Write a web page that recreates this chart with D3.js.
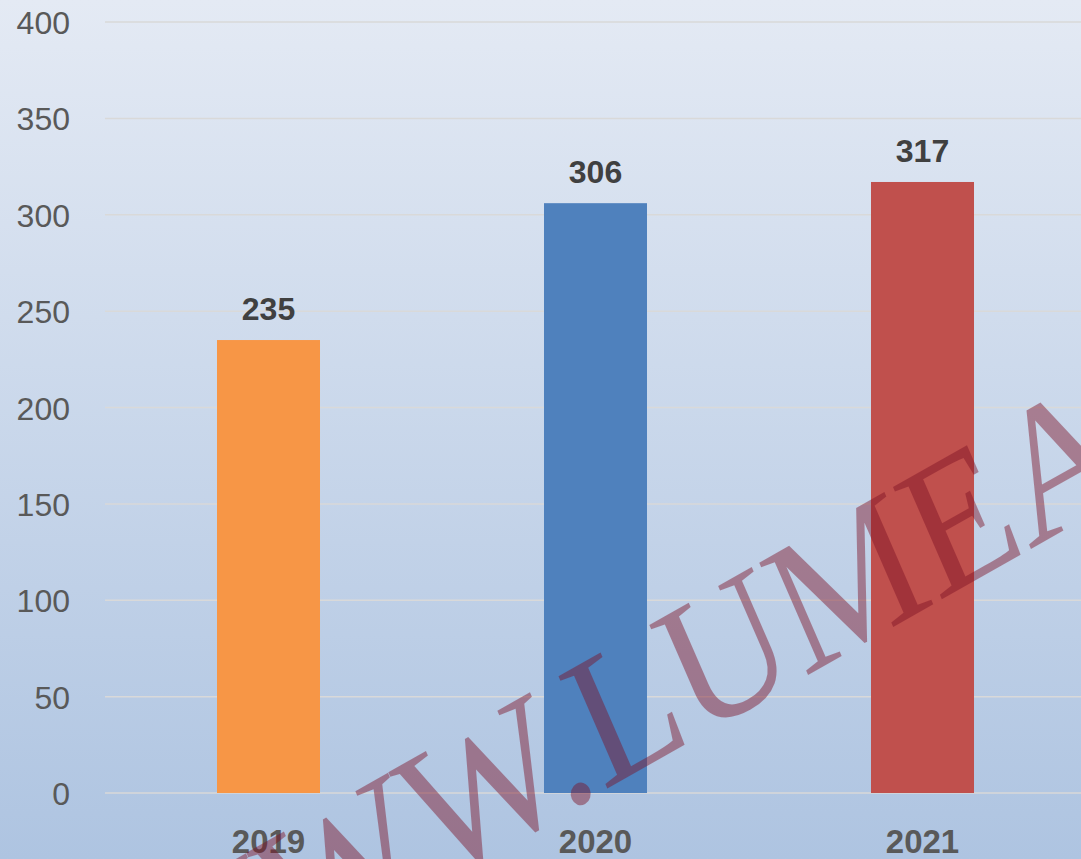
<!DOCTYPE html>
<html><head><meta charset="utf-8">
<script src="https://cdn.jsdelivr.net/npm/d3@7"></script>
<style>html,body{margin:0;padding:0;overflow:hidden;background:#dfe6f1}</style>
</head><body>
<script>
const categories = ["2019", "2020", "2021"];
const values = [235, 306, 317];
const barColors = ["#f79646", "#4f81bd", "#c0504d"];
const yTicks = [0, 50, 100, 150, 200, 250, 300, 350, 400];
const watermarkLead = "WWW.";
const watermarkTail = "LUMEA";

const W = 1081, H = 859;
const svg = d3.select("body").append("svg").attr("width", W).attr("height", H);
const defs = svg.append("defs");
const grad = defs.append("linearGradient").attr("id", "bg").attr("x1", 0).attr("y1", 0).attr("x2", 0).attr("y2", 1);
grad.append("stop").attr("offset", "0%").attr("stop-color", "#e4eaf4");
grad.append("stop").attr("offset", "100%").attr("stop-color", "#aec4e1");
svg.append("rect").attr("width", W).attr("height", H).attr("fill", "url(#bg)");

const y = d3.scaleLinear().domain([0, 400]).range([793, 22]);
const x = d3.scaleBand().domain(categories).range([105, 1086]).paddingInner(0.685).paddingOuter(0.3425);

// gridlines
svg.append("g").selectAll("line").data(yTicks).join("line")
  .attr("x1", 105).attr("x2", W)
  .attr("y1", d => y(d)).attr("y2", d => y(d))
  .attr("stroke", "#d9d9d9").attr("stroke-width", 1.5);

// y axis labels
const yAxis = d3.axisLeft(y).tickValues(yTicks).tickSize(0).tickPadding(0);
const gy = svg.append("g").attr("transform", "translate(70,0)").call(yAxis);
gy.select(".domain").remove();
gy.selectAll("text").attr("font-family", "Liberation Sans, Arial, sans-serif")
  .attr("font-size", 32).attr("fill", "#595959").attr("dy", "0.36em");

// bars
svg.append("g").selectAll("rect").data(categories).join("rect")
  .attr("x", d => x(d)).attr("width", x.bandwidth())
  .attr("y", (d, i) => y(values[i])).attr("height", (d, i) => y(0) - y(values[i]))
  .attr("fill", (d, i) => barColors[i]);

// value labels
svg.append("g").selectAll("text").data(categories).join("text")
  .attr("x", d => x(d) + x.bandwidth() / 2)
  .attr("y", (d, i) => y(values[i]) - 20)
  .attr("text-anchor", "middle")
  .attr("font-family", "Liberation Sans, Arial, sans-serif")
  .attr("font-weight", "bold").attr("font-size", 32).attr("fill", "#404040")
  .text((d, i) => values[i]);

// x axis labels
const xAxis = d3.axisBottom(x).tickSize(0).tickPadding(0);
const gx = svg.append("g").attr("transform", "translate(0,853)").call(xAxis);
gx.select(".domain").remove();
gx.selectAll("text").attr("font-family", "Liberation Sans, Arial, sans-serif")
  .attr("font-weight", "bold").attr("font-size", 33).attr("fill", "#595959").attr("dy", 0);

// watermark
const wm = svg.append("g").attr("transform", "translate(603,791) rotate(-29.5) skewX(-6) scale(0.93,1)")
  .attr("font-family", "Liberation Serif, Times New Roman, serif")
  .attr("font-size", 186).attr("fill", "rgb(125,15,35)").attr("fill-opacity", 0.45);
wm.append("text").attr("x", 0).attr("text-anchor", "end").text(watermarkLead);
wm.append("text").attr("x", 0).attr("text-anchor", "start").text(watermarkTail);
</script>
</body></html>
